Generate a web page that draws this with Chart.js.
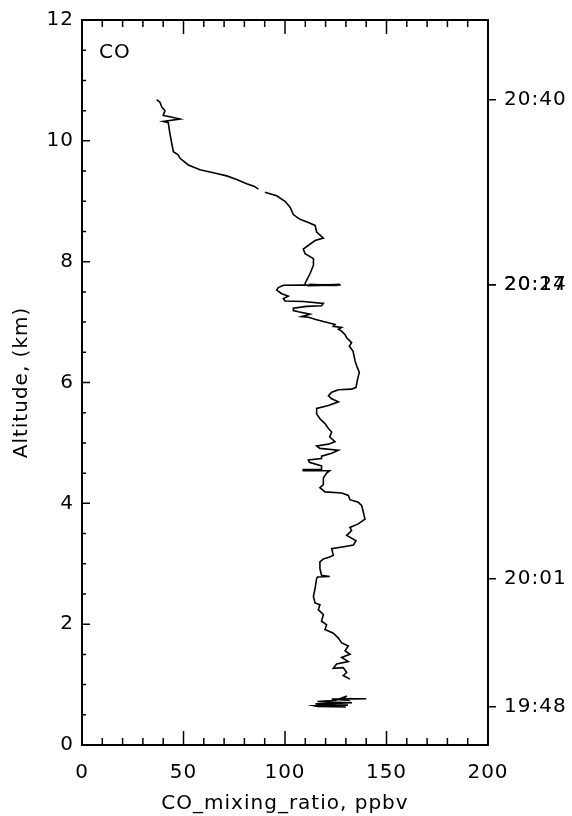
<!DOCTYPE html>
<html>
<head>
<meta charset="utf-8">
<script src="https://cdn.jsdelivr.net/npm/chart.js@4"></script>
<style>
  html, body { margin: 0; padding: 0; background: #fff; }
  canvas { display: block; }
</style>
</head>
<body>
<canvas id="profile" width="572" height="816"></canvas>
<script>
// CO profile, ascent from the bottom up (null = gap in the record)
const coPpbv = [
  130, 116, 114.5, 124, 131, 118, 115, 127, 133, 121, 116, 125, 130.5, 129, 131, 123, 140, 127, 133, null,
  132, 128.7, 130.4, 128.7, 123.8, 125.4, 131.2, 127.9, 132, 129.6, 131.2, 127.9, 126.3, 123.8, 119.7, 120.5,
  118, 118.9, 116.4, 117.2, 114.8, 114, 114.8, 115.6, 116, 122, 118, 117.2, 117.2, 118.9, 122, 123.8,
  123, 130.4, 133.7, 135, 130.4, 132.8, 132, 136.1, 139.4, 138.6, 137.8, 136.1, 132, 131.2, 127.9, 119.7,
  117.2, 118.9, 118.9, 120.5, 122, 109, 109, 118, 118, 112, 111.5, 118, 118, 123, 126.3, 117.2,
  115.6, 121.4, 124.6, 122, 123, 121.4, 119.7, 117.2, 115.6, 115.6, 121.4, 126.3, 123, 121.4, 123, 126.3,
  132.8, 135, 135.6, 136.6, 135.6, 134.5, 134, 133.5, 131.7, 132.8, 130.4, 129.6, 127.9, 126.3, 127.9, 123.8,
  124.6, 121.4, 118.9, 115.6, 111.5, 108.2, 112.3, 106.6, 104.1, 104.1, 110.6, 118, 118.9, 109, 100, 99.2,
  101.6, 98.4, 95.9, 96.7, 99.2, 127, 111, 127.5, 112, 126, 110, 109.9, 112.3, 114, 114, 109.9,
  109, 114.8, 118.9, 115.6, 114.8, 111.5, 107.4, 104.1, 102.5, 100, 95.9, 90.1, null,
  86.9, 84.7, 81.1, 76.2, 71.3, 66.3, 58.1, 52.4, 48.3, 47.4, 45, 44.2, 43.3, 42.5, 40, 48.3,
  43.3, 40, 40.9, 39.3, 38.4, 36.8
];
const altKm = [
  0.63, 0.64, 0.65, 0.655, 0.66, 0.67, 0.68, 0.69, 0.70, 0.71, 0.72, 0.74, 0.81, 0.78, 0.74, 0.76, 0.765, 0.76, 0.77, null,
  1.09, 1.15, 1.20, 1.28, 1.27, 1.34, 1.38, 1.45, 1.50, 1.56, 1.64, 1.69, 1.77, 1.85, 1.91, 1.99,
  2.05, 2.16, 2.24, 2.32, 2.35, 2.46, 2.59, 2.76, 2.78, 2.79, 2.81, 2.92, 3.03, 3.08, 3.11, 3.14,
  3.25, 3.29, 3.31, 3.38, 3.47, 3.55, 3.60, 3.66, 3.74, 3.85, 3.96, 4.02, 4.06, 4.13, 4.17, 4.19,
  4.26, 4.31, 4.42, 4.50, 4.54, 4.54, 4.56, 4.56, 4.62, 4.68, 4.72, 4.74, 4.78, 4.83, 4.88, 4.91,
  4.95, 4.98, 5.02, 5.10, 5.18, 5.24, 5.32, 5.40, 5.48, 5.57, 5.62, 5.68, 5.73, 5.78, 5.84, 5.88,
  5.89, 5.92, 6.03, 6.17, 6.25, 6.36, 6.44, 6.52, 6.60, 6.66, 6.74, 6.79, 6.85, 6.88, 6.91, 6.93,
  6.96, 6.99, 7.01, 7.04, 7.08, 7.09, 7.13, 7.17, 7.19, 7.23, 7.26, 7.27, 7.31, 7.34, 7.35, 7.39,
  7.43, 7.47, 7.53, 7.57, 7.61, 7.62, 7.60, 7.615, 7.62, 7.605, 7.61, 7.64, 7.80, 7.94, 8.05, 8.13,
  8.21, 8.35, 8.39, 8.49, 8.60, 8.65, 8.70, 8.78, 8.90, 9.00, 9.09, 9.15, null,
  9.20, 9.25, 9.29, 9.36, 9.42, 9.46, 9.52, 9.60, 9.71, 9.77, 9.82, 9.96, 10.12, 10.30, 10.32, 10.36,
  10.40, 10.42, 10.50, 10.56, 10.64, 10.68
];

// flight time marks on the right-hand axis
const timeLabels = ['19:48', '20:01', '20:17', '20:24', '20:40'];
const timeAltKm = [0.64, 2.75, 7.61, 7.61, 10.68];

const xTicks = [0, 50, 100, 150, 200];
const yTicks = [0, 2, 4, 6, 8, 10, 12];

const FONT = { family: '"DejaVu Sans", sans-serif', size: 20 };

const points = coPpbv.map((c, i) => (c === null ? { x: null, y: null } : { x: c, y: altKm[i] }));

// wider lettering for all canvas text
const spacing = {
  id: 'spacing',
  beforeDraw(chart) { chart.ctx.letterSpacing = '1px'; }
};

// box, inward ticks and the species tag
const frameTicks = {
  id: 'frameTicks',
  afterDraw(chart) {
    const { ctx, chartArea: a, scales } = chart;
    const xs = scales.x, ys = scales.y;
    ctx.save();
    ctx.strokeStyle = '#000';
    ctx.lineWidth = 1.5;
    ctx.beginPath();
    for (let v = 0; v <= 200; v += 10) {
      const px = xs.getPixelForValue(v);
      const len = v % 50 === 0 ? 14 : 7;
      ctx.moveTo(px, a.bottom); ctx.lineTo(px, a.bottom - len);
      ctx.moveTo(px, a.top); ctx.lineTo(px, a.top + len);
    }
    for (let v = 0; v <= 12; v += 0.5) {
      const py = ys.getPixelForValue(v);
      const len = v % 2 === 0 ? 8 : 4;
      ctx.moveTo(a.left, py); ctx.lineTo(a.left + len, py);
    }
    ctx.stroke();
    ctx.lineWidth = 2;
    ctx.strokeRect(a.left, a.top, a.right - a.left, a.bottom - a.top);
    ctx.fillStyle = '#000';
    ctx.font = '20px "DejaVu Sans", sans-serif';
    ctx.textBaseline = 'alphabetic';
    ctx.fillText('CO', a.left + 17, a.top + 38);
    ctx.restore();
  }
};

new Chart(document.getElementById('profile'), {
  type: 'scatter',
  data: {
    datasets: [{
      data: points,
      showLine: true,
      spanGaps: false,
      borderColor: '#000',
      borderWidth: 1.6,
      pointRadius: 0,
      tension: 0
    }]
  },
  options: {
    responsive: false,
    animation: false,
    devicePixelRatio: 1,
    layout: { padding: { top: 12, left: 0, right: 0, bottom: 0 } },
    plugins: { legend: { display: false }, tooltip: { enabled: false } },
    scales: {
      x: {
        type: 'linear',
        position: 'bottom',
        min: 0, max: 200,
        afterBuildTicks: s => { s.ticks = xTicks.map(v => ({ value: v })); },
        afterFit: s => { s.height = 71; },
        grid: { display: false, drawTicks: false },
        border: { display: false },
        ticks: { color: '#000', font: FONT, padding: 16, maxRotation: 0 },
        title: { display: true, text: 'CO_mixing_ratio, ppbv', color: '#000', font: FONT, padding: 0 }
      },
      y: {
        type: 'linear',
        position: 'left',
        min: 0, max: 12,
        afterBuildTicks: s => { s.ticks = yTicks.map(v => ({ value: v })); },
        afterFit: s => { s.width = 82; },
        grid: { display: false, drawTicks: false },
        border: { display: false },
        ticks: { color: '#000', font: FONT, padding: 8 },
        title: { display: true, text: 'Altitude, (km)', color: '#000', font: FONT, padding: { top: 10, bottom: 0 } }
      },
      yTime: {
        type: 'linear',
        position: 'right',
        min: 0, max: 12,
        afterBuildTicks: s => { s.ticks = timeAltKm.map(v => ({ value: v })); },
        afterFit: s => { s.width = 84; },
        grid: { display: true, drawOnChartArea: false, drawTicks: true, tickLength: 8, color: '#000', lineWidth: 1.5 },
        border: { display: false },
        ticks: {
          color: '#000', font: FONT, padding: 8, autoSkip: false,
          callback: (value, index) => timeLabels[index]
        }
      }
    }
  },
  plugins: [spacing, frameTicks]
});
</script>
</body>
</html>
